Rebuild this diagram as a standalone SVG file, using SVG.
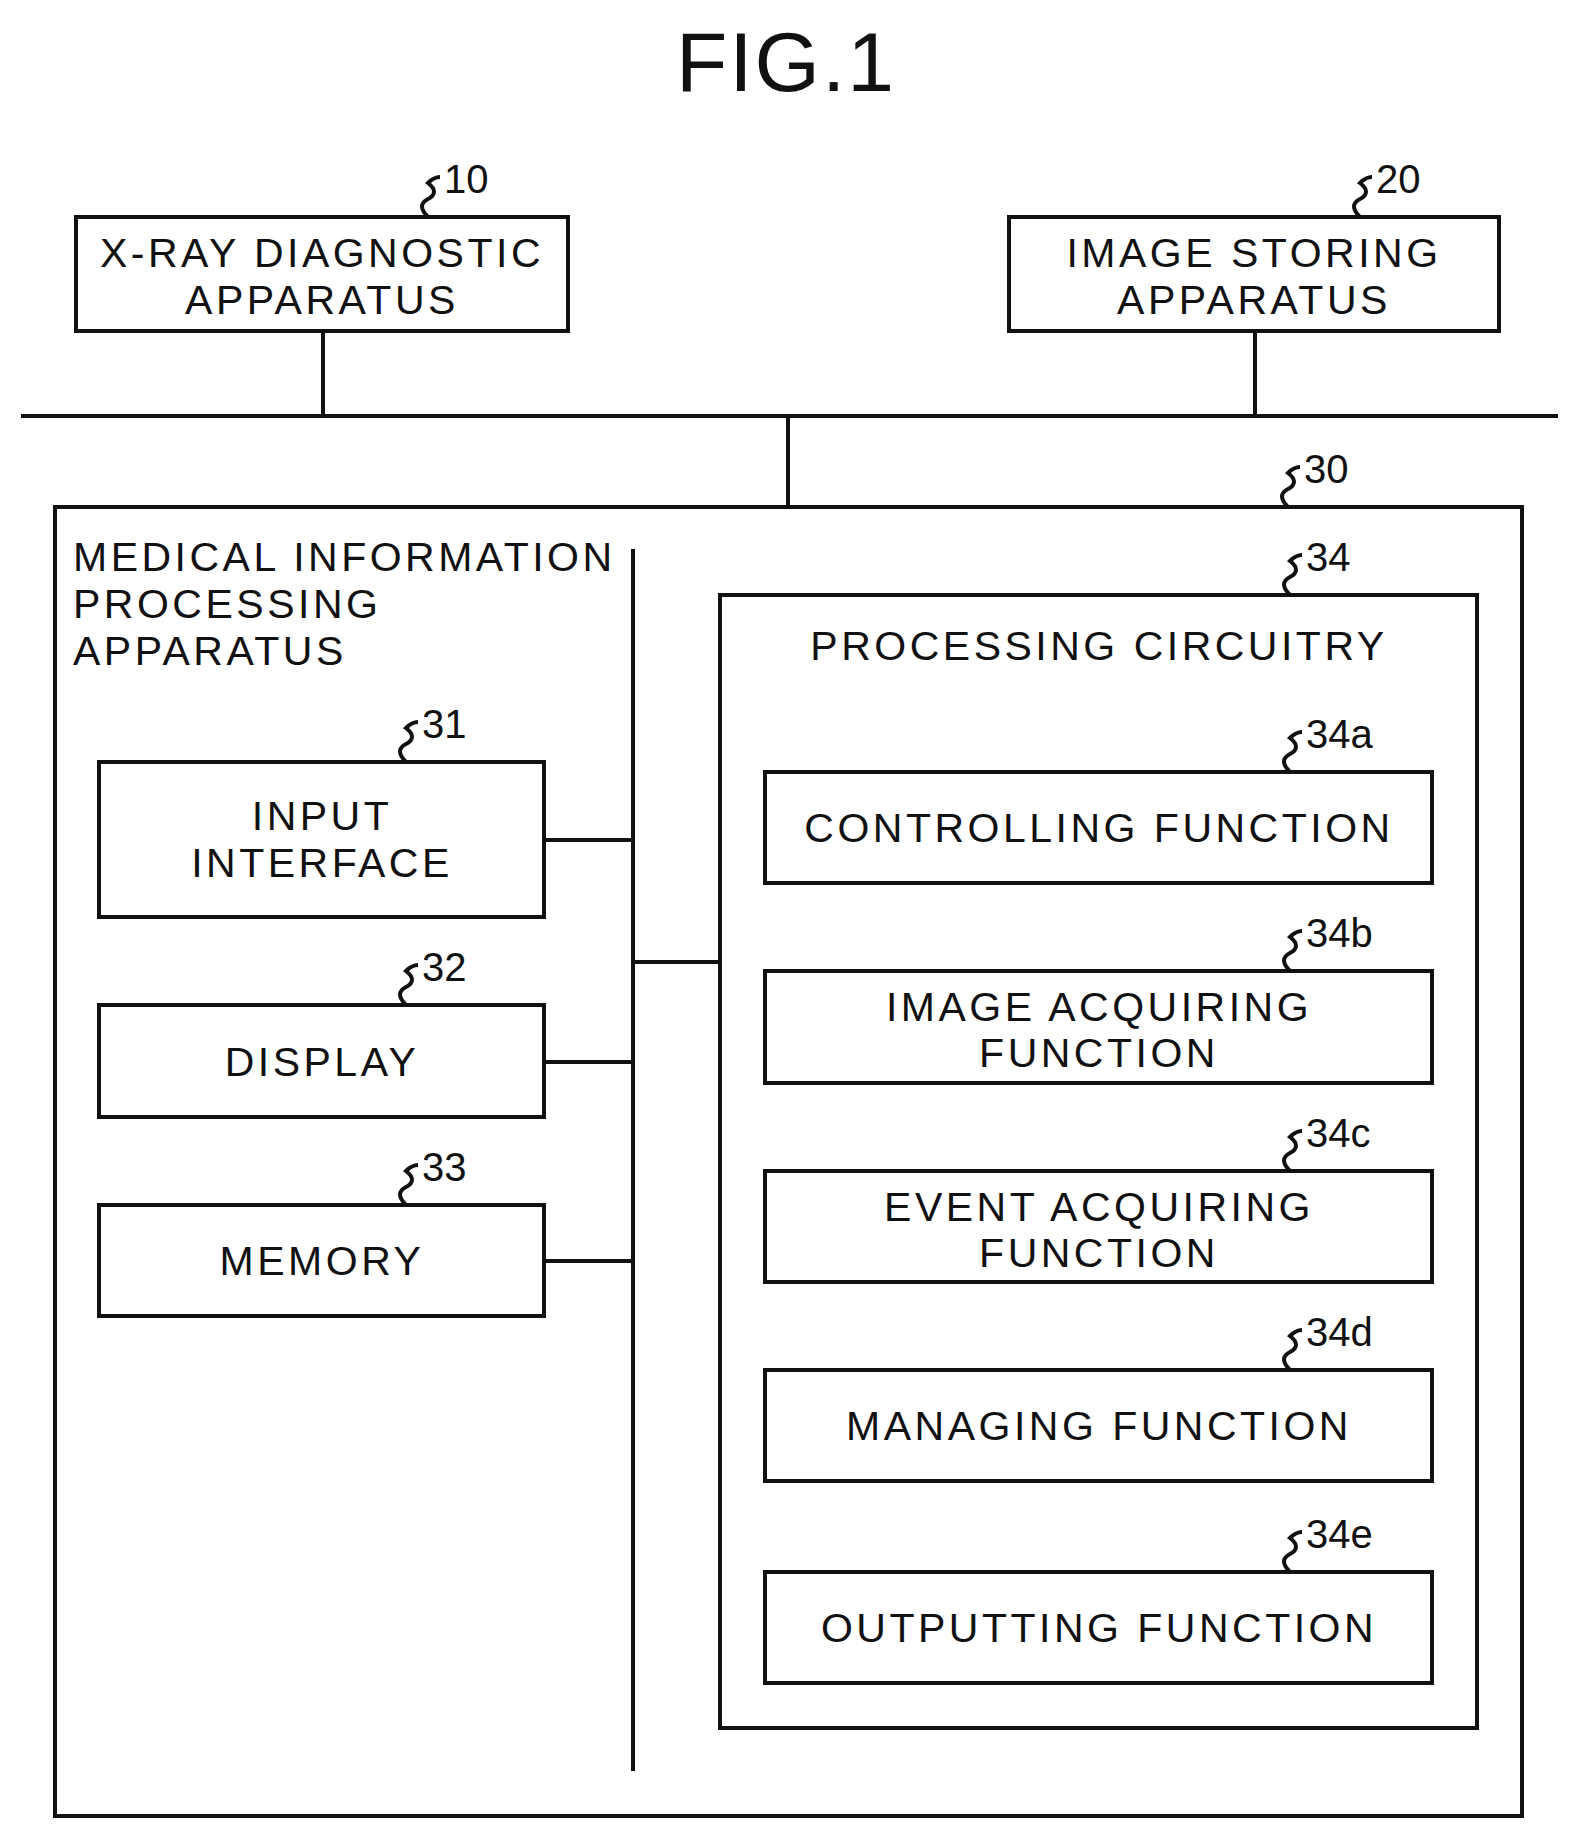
<svg xmlns="http://www.w3.org/2000/svg" width="1579" height="1841" viewBox="0 0 1579 1841">
<defs><style>
rect{fill:none;stroke:#111;stroke-width:4}
.l{stroke:#111;stroke-width:4;fill:none}
text{font-family:"Liberation Sans",Arial,sans-serif;font-size:41px;fill:#111;letter-spacing:3.5px}
.c{text-anchor:middle}
.n{font-size:40px;letter-spacing:0}
</style>
<path id="sq" d="M0,0 c-8,-8 -8,-14 0,-18 c8,-4 8,-10 0,-16 c4,-4 8,-6 12,-6" class="l"/>
</defs>
<rect width="1579" height="1841" style="fill:#fff;stroke:none"/>
<text x="786" y="91" class="c" style="font-size:84px;letter-spacing:2px">FIG.1</text>
<g id="connectors">
<path class="l" d="M21,416H1558M323,331V416M1255,331V416M788,416V507M633,549V1771M544,840H633M544,1062H633M544,1261H633M633,962H720"/>
</g>
<g id="n10"><rect x="76" y="217" width="492" height="114"/><text x="322" y="267" class="c">X-RAY DIAGNOSTIC</text><text x="322" y="314" class="c">APPARATUS</text><use href="#sq" x="428" y="217"/><text x="444" y="193" class="n">10</text></g>
<g id="n20"><rect x="1009" y="217" width="490" height="114"/><text x="1254" y="267" class="c">IMAGE STORING</text><text x="1254" y="314" class="c">APPARATUS</text><use href="#sq" x="1360" y="217"/><text x="1376" y="193" class="n">20</text></g>
<g id="n30"><rect x="55" y="507" width="1467" height="1309"/><text x="73" y="571">MEDICAL INFORMATION</text><text x="73" y="618">PROCESSING</text><text x="73" y="665">APPARATUS</text><use href="#sq" x="1288" y="507"/><text x="1304" y="483" class="n">30</text></g>
<g id="n31"><rect x="99" y="762" width="445" height="155"/><text x="322" y="830" class="c">INPUT</text><text x="322" y="877" class="c">INTERFACE</text><use href="#sq" x="406" y="762"/><text x="422" y="738" class="n">31</text></g>
<g id="n32"><rect x="99" y="1005" width="445" height="112"/><text x="322" y="1076" class="c">DISPLAY</text><use href="#sq" x="406" y="1005"/><text x="422" y="981" class="n">32</text></g>
<g id="n33"><rect x="99" y="1205" width="445" height="111"/><text x="322" y="1275" class="c">MEMORY</text><use href="#sq" x="406" y="1205"/><text x="422" y="1181" class="n">33</text></g>
<g id="n34"><rect x="720" y="595" width="757" height="1133"/><text x="1099" y="660" class="c">PROCESSING CIRCUITRY</text><use href="#sq" x="1290" y="595"/><text x="1306" y="571" class="n">34</text></g>
<g id="n34a"><rect x="765" y="772" width="667" height="111"/><text x="1099" y="842" class="c">CONTROLLING FUNCTION</text><use href="#sq" x="1290" y="772"/><text x="1306" y="748" class="n">34a</text></g>
<g id="n34b"><rect x="765" y="971" width="667" height="112"/><text x="1099" y="1021" class="c">IMAGE ACQUIRING</text><text x="1099" y="1067" class="c">FUNCTION</text><use href="#sq" x="1290" y="971"/><text x="1306" y="947" class="n">34b</text></g>
<g id="n34c"><rect x="765" y="1171" width="667" height="111"/><text x="1099" y="1221" class="c">EVENT ACQUIRING</text><text x="1099" y="1267" class="c">FUNCTION</text><use href="#sq" x="1290" y="1171"/><text x="1306" y="1147" class="n">34c</text></g>
<g id="n34d"><rect x="765" y="1370" width="667" height="111"/><text x="1099" y="1440" class="c">MANAGING FUNCTION</text><use href="#sq" x="1290" y="1370"/><text x="1306" y="1346" class="n">34d</text></g>
<g id="n34e"><rect x="765" y="1572" width="667" height="111"/><text x="1099" y="1642" class="c">OUTPUTTING FUNCTION</text><use href="#sq" x="1290" y="1572"/><text x="1306" y="1548" class="n">34e</text></g>
</svg>
